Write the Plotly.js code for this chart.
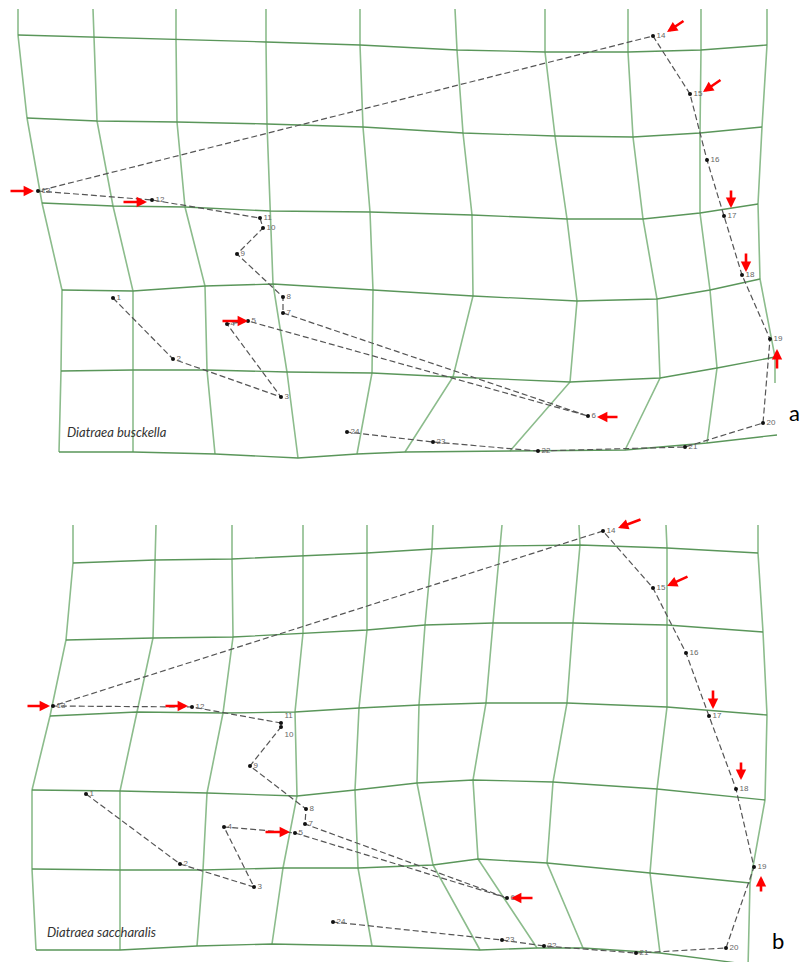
<!DOCTYPE html>
<html>
<head>
<meta charset="utf-8">
<script src="https://cdn.plot.ly/plotly-3.0.1.min.js"></script>
<style>html,body{margin:0;padding:0;background:#fff}#chart{width:800px;height:962px}</style>
</head>
<body>
<div id="chart"></div>
<script>
// ---------- DATA ----------
const landmarkIds = [1,2,3,4,5,6,7,8,9,10,11,12,13,14,15,16,17,18,19,20,21,22,23,24];

// Panel a: Diatraea busckella landmark configuration
const busckellaX = [113,173,281,227,248,588,283,283,237,263,260,152,38,653,690,707,724,742,770,763,685,538,433,347];
const busckellaY = [298,359,397,324,321,416,313,297,254,228,218,200,191,36,94,160,216,275,339,423,447,451,442,432];

// Panel b: Diatraea saccharalis landmark configuration
const saccharalisX = [86,180,254,224,295,507,305,306,250,281,281,192,53,603,653,686,709,736,754,726,636,544,502,333];
const saccharalisY = [794,864,887,827,833,898,824,809,766,727,723,707,706,531,588,653,716,789,867,948,953,946,940,922];

// Deformation grid, panel a: vertical lines (x list, y list per line)
const gridA_vX = [
  [18,18,27,42,62,61,59],
  [93,94,97,113,133,133,133],
  [176,176,177,185,205,207,215],
  [266,266,267,270,273,287,298],
  [360,360,363,370,373,372,357],
  [455,457,463,472,473,453,405],
  [545,545,555,567,577,570,510],
  [628,628,633,643,657,660,625],
  [701,701,700,700,710,717,707],
  [767,767,762,758,760,775,775]
];
const gridA_vY = [
  [9,35,118,203,290,371,452],
  [9,37,121,206,291,370,452],
  [9,39,122,207,286,370,454],
  [9,42,124,211,284,372,458],
  [9,45,127,212,290,373,454],
  [9,50,133,215,296,377,452],
  [9,52,136,219,301,382,451],
  [9,52,137,219,299,378,450],
  [9,50,133,213,290,368,443],
  [9,45,127,204,279,357,383]
];
// panel a: horizontal lines
const gridA_hX = [
  [18,94,176,266,360,457,545,628,701,767],
  [27,97,177,267,363,463,555,633,700,762],
  [42,113,185,270,370,472,567,643,700,758],
  [62,133,205,273,373,473,577,657,710,760],
  [61,133,207,287,372,453,570,660,717,775],
  [59,133,215,298,357,405,510,625,707,777]
];
const gridA_hY = [
  [35,37,39,42,45,50,52,52,50,45],
  [118,121,122,124,127,133,136,137,133,127],
  [203,206,207,211,212,215,219,219,213,204],
  [290,291,286,284,290,296,301,299,290,279],
  [371,370,370,372,373,377,382,378,368,357],
  [452,452,454,458,454,452,451,450,443,435]
];

// Deformation grid, panel b: vertical lines
const gridB_vX = [
  [73,73,66,50,32,32,36],
  [156,155,153,137,120,120,120],
  [232,232,233,223,207,203,197],
  [303,303,303,295,297,283,272],
  [367,367,367,359,355,358,372],
  [433,432,425,419,417,433,480],
  [502,500,493,486,473,478,537],
  [579,580,573,567,553,547,583],
  [666,667,667,667,657,650,660],
  [758,758,763,767,765,750,748]
];
const gridB_vY = [
  [525,563,640,716,790,869,950],
  [525,560,638,712,791,870,950],
  [525,559,637,713,793,870,946],
  [525,556,633,712,796,868,944],
  [525,553,630,708,790,868,946],
  [525,549,625,705,783,865,950],
  [525,546,623,703,780,859,948],
  [525,545,623,703,782,863,948],
  [525,548,625,707,789,873,953],
  [525,553,632,715,800,883,968]
];
// panel b: horizontal lines
const gridB_hX = [
  [73,155,232,303,367,432,500,580,667,758],
  [66,153,233,303,367,425,493,573,667,763],
  [50,137,223,295,359,419,486,567,667,767],
  [32,120,207,297,355,417,473,553,657,765],
  [32,120,203,283,358,433,478,547,650,750],
  [36,120,197,272,372,480,537,583,660,745]
];
const gridB_hY = [
  [563,560,559,556,553,549,546,545,548,553],
  [640,638,637,633,630,625,623,623,625,632],
  [716,712,713,712,708,705,703,703,707,715],
  [790,791,793,796,790,783,780,782,789,800],
  [869,870,870,868,868,865,859,863,873,883],
  [950,950,946,944,946,950,948,948,953,964]
];

// Red arrows marking landmarks: head (x,y) and tail (x,y)
const arrowsA_headX = [34,147,248,667,703,731,746,777,597];
const arrowsA_headY = [191,202,321,32,92,208,272,349,417];
const arrowsA_tailX = [9,122,221,685,722,731,746,777,619];
const arrowsA_tailY = [191,202,321,20,79,189,252,370,417];
const arrowsB_headX = [50,188,290,618,667,713,741,761,511];
const arrowsB_headY = [706,706,832,528,586,709,780,876,898];
const arrowsB_tailX = [26,164,264,642,689,713,741,761,534];
const arrowsB_tailY = [706,706,832,519,576,689,761,893,898];

const speciesNames = ["Diatraea busckella", "Diatraea saccharalis"];
const panelLetters = ["a", "b"];

// ---------- BUILD ----------
function polyTrace(xs, ys, color, width) {
  const X = [], Y = [];
  xs.forEach((line, i) => {
    line.forEach((v, k) => { X.push(v); Y.push(ys[i][k]); });
    X.push(null); Y.push(null);
  });
  return {x: X, y: Y, mode: 'lines', type: 'scatter', hoverinfo: 'skip',
          line: {color: color, width: width}, showlegend: false};
}
function landmarkTrace(xs, ys, positions) {
  return {x: xs, y: ys, type: 'scatter', mode: 'lines+markers+text',
          text: landmarkIds.map(String), textposition: positions,
          textfont: {family: 'Liberation Sans, Arial, sans-serif', size: 8, color: '#666'},
          marker: {color: '#111', size: 4},
          line: {color: '#555', width: 1.2, dash: '6px,3px'},
          showlegend: false, hoverinfo: 'skip', cliponaxis: false};
}
const posA = landmarkIds.map(() => 'middle right');
const posB = landmarkIds.map(id => id === 10 ? 'bottom right' : (id === 11 ? 'top right' : 'middle right'));
const vColor = 'rgb(140,188,140)', hColor = 'rgb(90,150,90)';
const traces = [
  polyTrace(gridA_vX, gridA_vY, vColor, 1.6),
  polyTrace(gridA_hX, gridA_hY, hColor, 1.3),
  polyTrace(gridB_vX, gridB_vY, vColor, 1.6),
  polyTrace(gridB_hX, gridB_hY, hColor, 1.3),
  landmarkTrace(busckellaX, busckellaY, posA),
  landmarkTrace(saccharalisX, saccharalisY, posB)
];

const annotations = [];
function addArrows(hx, hy, tx, ty) {
  hx.forEach((v, i) => {
    annotations.push({x: v, y: hy[i], ax: tx[i], ay: ty[i], xref: 'x', yref: 'y',
      axref: 'x', ayref: 'y', text: '', showarrow: true, arrowhead: 2,
      arrowsize: 0.8, arrowwidth: 2.6, arrowcolor: '#ff0000', standoff: 0});
  });
}
addArrows(arrowsA_headX, arrowsA_headY, arrowsA_tailX, arrowsA_tailY);
addArrows(arrowsB_headX, arrowsB_headY, arrowsB_tailX, arrowsB_tailY);

annotations.push({x: 65, y: 432, xref: 'x', yref: 'y', text: '<i>' + speciesNames[0] + '</i>',
  showarrow: false, xanchor: 'left', yanchor: 'middle',
  font: {family: 'Lato, Open Sans, sans-serif', size: 13, color: '#333'}});
annotations.push({x: 45, y: 932, xref: 'x', yref: 'y', text: '<i>' + speciesNames[1] + '</i>',
  showarrow: false, xanchor: 'left', yanchor: 'middle',
  font: {family: 'Lato, Open Sans, sans-serif', size: 13, color: '#333'}});
annotations.push({x: 787, y: 412, xref: 'x', yref: 'y', text: panelLetters[0],
  showarrow: false, xanchor: 'left', yanchor: 'middle',
  font: {family: 'Lato, Open Sans, sans-serif', size: 22, color: '#000'}});
annotations.push({x: 770, y: 940, xref: 'x', yref: 'y', text: panelLetters[1],
  showarrow: false, xanchor: 'left', yanchor: 'middle',
  font: {family: 'Lato, Open Sans, sans-serif', size: 22, color: '#000'}});

const layout = {
  width: 800, height: 962,
  margin: {l: 0, r: 0, t: 0, b: 0, pad: 0},
  paper_bgcolor: '#fff', plot_bgcolor: '#fff',
  xaxis: {range: [0, 800], visible: false, fixedrange: true},
  yaxis: {range: [962, 0], visible: false, fixedrange: true},
  annotations: annotations,
  showlegend: false
};
Plotly.newPlot('chart', traces, layout, {displayModeBar: false, staticPlot: true});
</script>
</body>
</html>
